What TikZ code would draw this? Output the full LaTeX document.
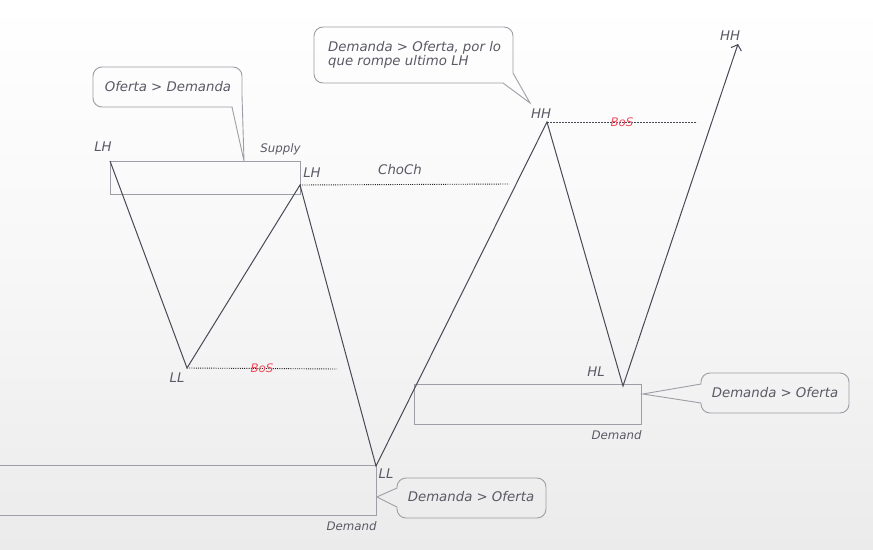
\documentclass[tikz,border=0pt]{standalone}
\usepackage{fontspec}
\newfontfamily\lblfont{DejaVu Sans}
\usetikzlibrary{arrows.meta,calc,positioning}
\definecolor{leggray}{HTML}{474A55}
\definecolor{boxgray}{HTML}{9E9EA6}
\definecolor{txtgray}{HTML}{5A5A66}
\definecolor{bosred}{HTML}{F04E5E}
\definecolor{bggray}{HTML}{EBEBEB}
\tikzset{
  lbl/.style={font=\lblfont\itshape\fontsize{13.3}{14}\selectfont, text=txtgray, inner sep=0pt},
  smalllbl/.style={font=\lblfont\itshape\fontsize{11.8}{12}\selectfont, text=txtgray, inner sep=0pt},
  bos/.style={font=\lblfont\itshape\fontsize{11.8}{12}\selectfont, text=bosred, inner sep=0pt},
  zone/.style={draw=boxgray, line width=0.8pt, inner sep=0pt, anchor=north west},
  leg/.style={draw=leggray, line width=1pt},
  bubble/.style={draw=boxgray, line width=0.9pt},
  breakline/.style={draw=black!85, dash pattern=on 1pt off 1.2pt, line width=0.9pt},
}

\begin{document}
\begin{tikzpicture}[x=1pt,y=-1pt]
        % Background
        \shade[top color=white, bottom color=bggray, middle color=white!60!bggray] (0,0) rectangle (873,549);
        \useasboundingbox (0,0) rectangle (873,549);
        % Supply and demand zones
        \node[zone, minimum width=190pt, minimum height=33pt] (supply) at (110,161) {};
        \node[zone, minimum width=227pt, minimum height=40pt] (demandB) at (414,384) {};
        \node[zone, minimum width=377pt, minimum height=50pt] (demandA) at (-1,465) {};
        \node[smalllbl, anchor=south east] at ($(supply.north east)+(0,-6)$) {Supply};
        \node[smalllbl, anchor=north east] at ($(demandB.south east)+(0,6)$) {Demand};
        \node[smalllbl, anchor=north east] at ($(demandA.south east)+(0,6)$) {Demand};
        % Define points
        \coordinate (LH1) at (110,161);
        \coordinate (LL1) at (187,368);
        \coordinate (LH2) at (300,185);
        \coordinate (LL2) at (376,466);
        \coordinate (HH1) at (547,122);
        \coordinate (HL1) at (623,386);
        \coordinate (HH2) at (738,44);
        % Structure breaks
        \coordinate (bosA) at (337,369);
        \coordinate (choch) at (509,184);
        \coordinate (bosB) at (697,122);
        \draw[breakline] (LL1) -- (bosA) node[bos, midway] {BoS};
        \draw[breakline] (LH2) -- (choch);
        \draw[leggray, dash pattern=on 2pt off 1pt, line width=0.6pt] (HH1) -- (bosB) node[bos, midway] {BoS};
        % Price path
        \draw[leg, -{Straight Barb[length=5pt,width=11pt]}] (LH1) -- (LL1) -- (LH2) -- (LL2) -- (HH1) -- (HL1) -- (HH2);
        % Label the swings
        \node[lbl] (tLH1) at (103,147) {LH};
        \node[lbl] (tLL1) at (177,378) {LL};
        \node[lbl] (tLH2) at (312,173) {LH};
        \node[lbl] (tLL2) at (386,474) {LL};
        \node[lbl] (tHH1) at (541,114) {HH};
        \node[lbl] (tHL1) at (596,372) {HL};
        \node[lbl] (tHH2) at (730,36) {HH};
        \node[lbl] (tchoch) at (400,170) {ChoCh};
        % Callouts
        \node[lbl] (cA) at (168,87) {Oferta > Demanda};
        \draw[bubble] (232,107) -- ($(supply.north west)+(134,0)$) -- (242,95) [rounded corners=9pt] -- (242,67) -- (93,67) -- (93,107) -- (232.5,107);
        \node[lbl, align=left, anchor=west, font=\lblfont\itshape\fontsize{13.3}{13.5}\selectfont] (cB) at (328,55) {Demanda > Oferta, por lo\\que rompe ultimo LH};
        \draw[bubble] (503,83) -- (530,103) -- (513,73) [rounded corners=9pt] -- (513,27) -- (314,27) -- (314,83) -- (503.5,83);
        \node[lbl] (cC) at (775,393) {Demanda > Oferta};
        \draw[bubble] (701,384) -- ($(demandB.north east)+(1,10)$) -- (701,403) [rounded corners=9pt] -- (701,413) -- (849,413) -- (849,373) -- (701,373) -- (701,384.5);
        \node[lbl] (cD) at (471,497) {Demanda > Oferta};
        \draw[bubble] (397,488) -- ($(demandA.north east)+(0,32)$) -- (397,507) [rounded corners=9pt] -- (397,518) -- (546,518) -- (546,478) -- (397,478) -- (397,488.5);
\end{tikzpicture}
\end{document}
